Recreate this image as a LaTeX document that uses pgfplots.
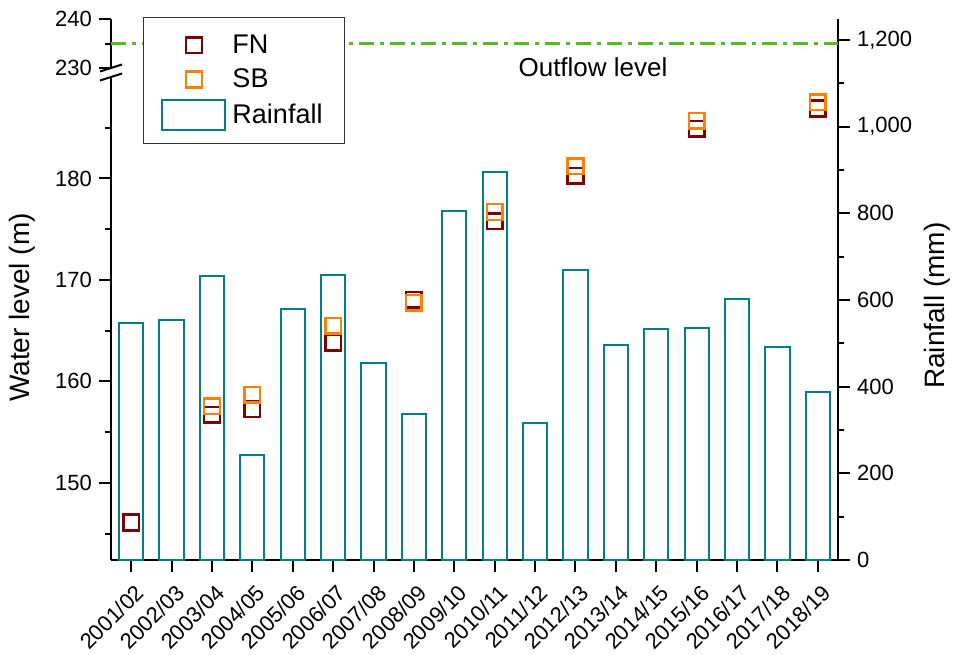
\documentclass[border=0pt]{standalone}
\usepackage{pgfplots}
\pgfplotsset{compat=1.18}
\usepackage{fontspec}
\setmainfont{Liberation Sans}
\definecolor{barteal}{RGB}{0,128,128}
\definecolor{fnred}{RGB}{128,0,0}
\definecolor{sborange}{RGB}{255,128,0}
\definecolor{outgreen}{RGB}{85,185,35}

\pgfplotstableread{
x rain
0 546
1 553
2 654
3 242
4 578
5 658
6 454
7 336
8 804
9 895
10 315
11 669
12 496
13 533
14 536
15 602
16 492
17 388
}\raintable

\pgfplotstableread{
x lvl
0 146.1
2 156.7
3 157.27
5 163.8
7 168.03
9 175.8
11 180.25
14 184.9
17 186.9
}\fntable

\pgfplotstableread{
x lvl
2 157.55
3 158.67
5 165.5
7 167.77
9 176.7
11 181.2
14 185.7
17 187.5
}\sbtable

\pgfplotsset{
  common/.style={
    scale only axis, width=363.5pt,
    xmin=-0.5, xmax=17.5,
    axis line style={line width=1pt},
    tick style={line width=1pt, black},
    major tick length=6pt, minor tick length=3pt,
    tick align=outside,
    tick label style={font=\fontsize{11}{13}\selectfont},
    label style={font=\fontsize{14}{16}\selectfont},
    /pgf/number format/assume math mode=true,
  },
  marklegend/.style={legend image code/.code={\draw[mark repeat=2,mark phase=2,##1] plot coordinates {(0pt,0pt) (15.75pt,0pt) (31.5pt,0pt)};}},
  rectlegend/.style={legend image code/.code={\draw[##1] (0pt,-7.5pt) rectangle (31.5pt,7.5pt);}},
}

\begin{document}
\begin{tikzpicture}
% Rainfall (right axis)
\begin{axis}[common, at={(0,0)}, anchor=south west,
  height=270.5pt,
  ymin=0, ymax=1248,
  axis x line*=bottom, axis y line*=right,
  xtick={0,...,17},
  xticklabels={2001/02,2002/03,2003/04,2004/05,2005/06,2006/07,2007/08,2008/09,2009/10,2010/11,2011/12,2012/13,2013/14,2014/15,2015/16,2016/17,2017/18,2018/19},
  xticklabel style={xshift=1.5pt, yshift=-4pt, rotate=45, anchor=north east, inner sep=1pt},
  ytick={0,200,...,1200},
  minor ytick={100,300,...,1100},
  scaled y ticks=false,
  yticklabel style={/pgf/number format/1000 sep={,}},
  ylabel={Rainfall (mm)},
  ylabel style={at={(axis description cs:1.137,0.47)}, anchor=center},
]
\addplot[ybar, bar width=0.6, draw=barteal, line width=1pt, fill=none] table[x=x, y=rain] {\raintable};
\end{axis}
% Water level lower segment (left axis)
\begin{axis}[common, at={(0,0)}, anchor=south west,
  height=241.5pt,
  ymin=142.4, ymax=190,
  axis x line=none, axis y line*=left,
  ytick={150,160,170,180},
  minor ytick={145,155,165,175,185},
  ylabel={Water level (m)},
  ylabel style={at={(axis description cs:-0.1224,0.523)}, anchor=center},
]
\addplot[only marks, mark=square, mark size=3.9pt, draw=fnred, mark options={solid, line width=1.25pt}] table[x=x, y=lvl] {\fntable};
\addplot[only marks, mark=square, mark size=3.9pt, draw=sborange, mark options={solid, line width=1.25pt}] table[x=x, y=lvl] {\sbtable};
\end{axis}
% Water level upper segment
\begin{axis}[common, at={(0,246pt)}, anchor=south west,
  height=24.5pt,
  ymin=230, ymax=240,
  axis x line=none, axis y line*=left,
  ytick={230,240}, minor ytick={235},
  clip=false,
  legend style={at={(rel axis cs:0.044,1.041)}, anchor=north west,
    draw=black!80, line width=0.5pt, fill=white,
    font=\fontsize{13.5}{16}\selectfont,
    inner xsep=9pt, inner ysep=6.5pt, row sep=2.25pt,
    /tikz/every odd column/.append style={column sep=1pt}},
  legend cell align=left,
]
\addplot[outgreen, line width=1.25pt, dash pattern=on 7.5pt off 3pt on 2pt off 3pt, forget plot] coordinates {(-0.5,235) (17.5,235)};
\node[font=\fontsize{13}{15}\selectfont] at (rel axis cs:0.663,0.02) {Outflow level};
\addlegendimage{only marks, mark=square, mark size=3.9pt, draw=fnred, mark options={solid, line width=1.25pt}, marklegend}
\addlegendentry{FN}
\addlegendimage{only marks, mark=square, mark size=3.9pt, draw=sborange, mark options={solid, line width=1.25pt}, marklegend}
\addlegendentry{SB}
\addlegendimage{draw=barteal, line width=1pt, rectlegend}
\addlegendentry{Rainfall}
\end{axis}
% axis break marks
\draw[line width=1pt] (-5.5pt,244.25pt) -- (5.5pt,247.75pt);
\draw[line width=1pt] (-5.5pt,239.75pt) -- (5.5pt,243.25pt);
\pgfresetboundingbox
\path[use as bounding box] (-55.5pt,-47pt) rectangle (424pt,280pt);
\end{tikzpicture}
\end{document}
